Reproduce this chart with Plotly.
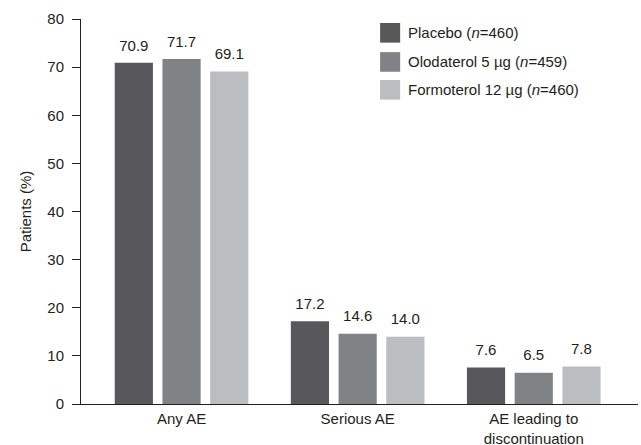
import plotly.graph_objects as go

categories = ["Any AE", "Serious AE", "AE leading to<br>discontinuation"]
series_names = ["Placebo (<i>n</i>=460)", "Olodaterol 5 µg (<i>n</i>=459)", "Formoterol 12 µg (<i>n</i>=460)"]
placebo = [70.9, 17.2, 7.6]
olodaterol = [71.7, 14.6, 6.5]
formoterol = [69.1, 14.0, 7.8]
y_ticks = [0, 10, 20, 30, 40, 50, 60, 70, 80]

colors = ["#58585a", "#818285", "#bcbdc0"]
values = [placebo, olodaterol, formoterol]
FONT = "Liberation Sans, Arial, Helvetica, sans-serif"
TXT = "#231f20"

fig = go.Figure()
x_idx = list(range(len(categories)))
for i, (name, vals, col) in enumerate(zip(series_names, values, colors)):
    fig.add_trace(go.Bar(
        x=x_idx, y=vals, name=name, marker=dict(color=col, line=dict(width=0)),
        offsetgroup=str(i), showlegend=False,
    ))
for i, vals in enumerate(values):
    fig.add_trace(go.Scatter(
        x=x_idx, y=vals, mode="markers+text", offsetgroup=str(i),
        text=[f"{v:.1f}" for v in vals], textposition="top center",
        marker=dict(size=12, opacity=0), textfont=dict(size=15, color=TXT, family=FONT),
        showlegend=False, hoverinfo="skip", cliponaxis=False,
    ))

# legend drawn as shapes + annotations
rows_top = [0.9896, 0.914, 0.8416]
for name, col, top in zip(series_names, colors, rows_top):
    fig.add_shape(type="rect", xref="paper", yref="paper", x0=0.537, x1=0.573,
                  y0=top - 0.051, y1=top, fillcolor=col, line=dict(width=0))
    fig.add_annotation(xref="paper", yref="paper", x=0.583, y=top - 0.0255,
                       xanchor="left", yanchor="middle", text=name, showarrow=False,
                       font=dict(size=15, color=TXT, family=FONT))

fig.update_layout(
    width=641, height=445,
    margin=dict(l=81, r=3, t=19, b=41),
    paper_bgcolor="white", plot_bgcolor="white",
    barmode="group", bargap=0.187, bargroupgap=0.2,
    scattermode="group", scattergap=0.187,
    font=dict(family=FONT, size=15, color=TXT),
    xaxis=dict(
        tickmode="array", tickvals=x_idx, ticktext=categories,
        range=[-0.571, 2.592], showline=True, linecolor=TXT, linewidth=1,
        ticks="", showgrid=False, zeroline=False, fixedrange=True, automargin=False,
        tickfont=dict(size=15, color=TXT), ticklabelstandoff=1,
    ),
    yaxis=dict(
        range=[0, 80], tickvals=y_ticks, showline=True, linecolor=TXT, linewidth=1,
        ticks="outside", ticklen=8, tickcolor=TXT, tickwidth=1, ticklabelstandoff=5,
        showgrid=False, zeroline=False, automargin=False, fixedrange=True,
        title=dict(text="Patients (%)", standoff=12, font=dict(size=15, color=TXT)),
        tickfont=dict(size=15, color=TXT),
    ),
)

fig.write_html("out.html", config={"displayModeBar": False},
               post_script="document.body.style.margin='0';")
